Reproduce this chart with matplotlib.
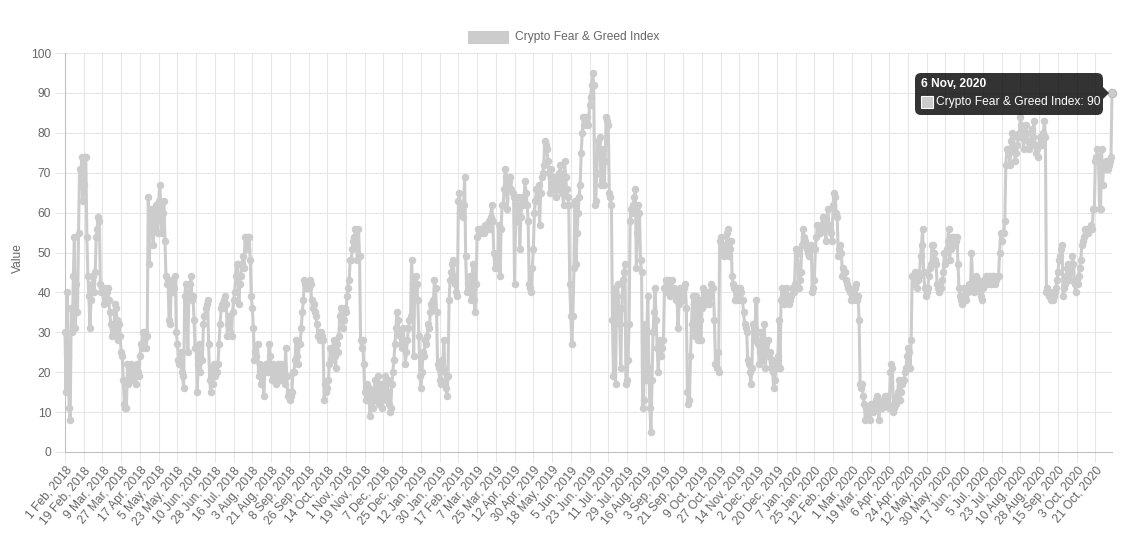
import matplotlib
matplotlib.use('Agg')
import matplotlib.pyplot as plt
import numpy as np
import pandas as pd
from matplotlib.patches import FancyBboxPatch, Rectangle, Polygon
from matplotlib.transforms import IdentityTransform

W, H = 1133, 535
LINE_COLOR = '#cccccc'
TEXT_COLOR = '#666666'
GRID_COLOR = '#e6e6e6'

# daily index values, Feb 2018 -> Nov 2020
fng_part1 = [
    30, 15, 40, 24, 11, 8, 36, 30, 44, 54, 31, 42, 35, 55, 71, 67, 74, 63,
    67, 74, 74, 54, 44, 39, 31, 38, 42, 44, 40, 45, 54, 56, 59, 58, 42, 40,
    41, 37, 41, 38, 40, 41, 38, 35, 32, 29, 31, 30, 37, 36, 33, 28, 32, 29,
    25, 24, 18, 12, 11, 11, 22, 17, 20, 22, 19, 18, 21, 20, 17, 22, 20, 19,
    24, 27, 26, 30, 28, 30, 26, 29, 64, 47, 57, 61, 56, 52, 60, 62, 58, 55,
    63, 67, 62, 55, 60, 63, 53, 44, 42, 43, 33, 32, 41, 43, 40, 41, 44, 30,
    27, 23, 22, 25, 20, 19, 16, 39, 42, 38, 25, 40, 42, 44, 38, 39, 33, 26,
    26, 15, 22, 27, 20, 23, 23, 32, 34, 36, 37, 38, 27, 18, 15, 21, 17, 22,
    19, 22, 20, 22, 27, 32, 36, 37, 36, 38, 39, 37, 29, 32, 34, 30, 29, 35,
    38, 40, 44, 47, 47, 37, 42, 44, 47, 49, 46, 54, 54, 51, 54, 54, 48, 39,
    36, 31, 23, 25, 24, 27, 19, 22, 17, 20, 21, 14, 20, 22, 21, 20, 27, 24,
    21, 18, 22, 19, 20, 17, 21, 22, 19, 18, 22, 21, 18, 17, 26, 19, 14, 15,
    13, 14, 15, 20, 20, 23, 28, 24, 22, 27, 27, 31, 35, 38, 43, 42, 41, 42,
    41, 43, 42, 38, 36, 37, 35, 34, 32, 29, 30, 28, 30, 29, 28, 13, 17, 15,
    16, 18, 22, 26, 23, 25, 28, 24, 21, 27, 25, 29, 34, 36, 35, 31, 33, 36,
    35, 39, 41, 43, 48, 48, 51, 53, 54, 56, 52, 48, 56, 49, 28, 26, 28, 22,
    15, 13, 17, 14, 16, 9, 12, 15, 11, 14, 18, 13, 16, 19, 12, 14, 17, 11,
    16, 19, 13, 15, 18, 12, 10, 11, 17, 20, 23, 27, 31, 35, 33, 30, 29, 27,
    26, 31, 27, 22, 25, 28, 31, 33, 34, 48, 42, 24, 41, 44, 42, 38, 29, 19,
]
fng_part2 = [
    16, 20, 25, 24, 28, 27, 29, 32, 31, 35, 37, 36, 38, 43, 41, 35, 22, 21,
    18, 17, 23, 21, 28, 20, 16, 14, 19, 38, 43, 45, 47, 48, 44, 42, 40, 39,
    63, 65, 60, 62, 59, 62, 69, 49, 40, 42, 40, 44, 38, 43, 47, 38, 35, 42,
    54, 56, 55, 56, 55, 56, 56, 55, 57, 56, 57, 58, 56, 59, 62, 58, 50, 46,
    49, 46, 49, 57, 44, 56, 62, 62, 66, 71, 69, 61, 66, 68, 69, 66, 65, 64,
    42, 58, 62, 64, 61, 51, 59, 64, 62, 63, 68, 65, 62, 58, 42, 41, 40, 46,
    51, 60, 63, 66, 64, 67, 57, 65, 69, 70, 72, 78, 77, 76, 73, 70, 65, 71,
    69, 67, 66, 69, 64, 67, 66, 70, 72, 68, 65, 62, 73, 69, 66, 64, 62, 42,
    34, 27, 34, 46, 63, 47, 55, 60, 64, 67, 75, 80, 84, 82, 84, 83, 84, 82,
    87, 89, 92, 95, 92, 62, 63, 70, 78, 74, 79, 67, 72, 76, 67, 73, 84, 83,
    82, 65, 64, 62, 33, 19, 41, 17, 39, 42, 36, 32, 21, 36, 43, 45, 47, 17,
    18, 23, 32, 58, 61, 60, 62, 64, 66, 46, 55, 62, 60, 48, 45, 11, 13, 32,
    18, 30, 39, 21, 11, 5, 18, 30, 35, 41, 33, 26, 20, 27, 28, 24, 26, 28,
    41, 43, 40, 42, 43, 39, 41, 43, 40, 41, 40, 38, 39, 31, 37, 41, 39, 40,
    38, 41, 42, 36, 15, 12, 13, 24, 32, 39, 35, 29, 39, 33, 28, 38, 33, 28,
    36, 41, 40, 38, 37, 40, 38, 37, 39, 42, 41, 41, 33, 22, 21, 25, 20, 53,
    54, 52, 50, 49, 51, 52, 55, 56, 49, 51, 53, 44, 42, 41, 38, 38, 41, 39,
    38, 41, 40, 38, 35, 32, 31, 30, 23, 22, 20, 17, 21, 32, 28, 31, 38, 30,
    27, 22, 25, 30, 23, 28, 32, 21, 27, 28, 24, 25, 21, 23, 20, 16, 18, 21,
]
fng_part3 = [
    22, 24, 33, 21, 38, 41, 39, 37, 40, 41, 38, 39, 37, 38, 39, 41, 40, 42,
    51, 50, 50, 41, 43, 45, 52, 56, 54, 53, 52, 51, 50, 49, 51, 52, 40, 41,
    43, 51, 54, 57, 56, 55, 56, 57, 59, 58, 57, 53, 57, 61, 57, 56, 55, 53,
    62, 65, 64, 60, 59, 49, 51, 52, 50, 44, 46, 45, 43, 42, 41, 41, 40, 38,
    40, 38, 39, 41, 42, 38, 39, 33, 17, 16, 17, 14, 12, 8, 11, 11, 9, 8,
    12, 11, 10, 12, 11, 13, 14, 12, 8, 11, 12, 11, 13, 13, 14, 13, 14, 12,
    11, 20, 22, 21, 10, 11, 12, 14, 15, 18, 13, 15, 17, 18, 18, 20, 21, 24,
    26, 25, 21, 28, 44, 44, 42, 45, 43, 41, 43, 44, 49, 52, 56, 45, 41, 39,
    40, 41, 44, 46, 47, 52, 52, 50, 48, 47, 42, 41, 40, 42, 41, 43, 45, 50,
    47, 51, 53, 56, 48, 51, 54, 53, 54, 52, 53, 54, 47, 41, 39, 38, 37, 38,
    41, 39, 38, 41, 40, 42, 41, 50, 43, 40, 41, 44, 42, 43, 42, 40, 39, 38,
    41, 43, 43, 44, 42, 43, 44, 43, 42, 44, 43, 44, 42, 43, 44, 44, 50, 55,
    53, 55, 55, 58, 72, 76, 76, 75, 72, 78, 80, 79, 76, 73, 75, 77, 79, 80,
    84, 82, 79, 76, 80, 82, 80, 78, 76, 77, 78, 81, 79, 83, 77, 75, 76, 74,
    77, 79, 78, 77, 80, 83, 79, 40, 41, 39, 40, 38, 39, 38, 39, 40, 41, 43,
    45, 48, 49, 51, 52, 39, 41, 42, 44, 46, 47, 45, 43, 46, 49, 47, 42, 40,
    43, 42, 44, 46, 48, 52, 53, 54, 56, 55, 56, 55, 56, 56, 57, 56, 61, 61,
    73, 74, 76, 74, 61, 61, 76, 67, 72, 71, 73, 72, 71, 72, 73, 74, 90,
]
# the source has no entries for these days
missing_days = ['2018-04-14', '2018-04-15', '2018-04-16']

values = fng_part1 + fng_part2 + fng_part3
dates = pd.date_range('2018-02-01', '2020-11-06', freq='D')
dates = dates[~dates.isin(pd.to_datetime(missing_days))]
assert len(dates) == len(values), (len(dates), len(values))

labels = ['%d %s, %d' % (d.day, d.strftime('%b'), d.year) for d in dates]
n = len(values)
x = np.arange(n)

plt.rcParams['font.family'] = ['Liberation Sans', 'DejaVu Sans']
fs = 12 * 72 / 100.0  # 12px

fig = plt.figure(figsize=(W / 100, H / 100), dpi=100)
ax = fig.add_axes([65 / W, 1 - 452 / H, (1112 - 65) / W, (452 - 53) / H])

ax.plot(x, values, color=LINE_COLOR, lw=2.2, marker='o', ms=4.4,
        mfc=LINE_COLOR, mec=LINE_COLOR, zorder=3, clip_on=False)
# hovered point
ax.plot(x[-1], values[-1], 'o', ms=6, mfc=LINE_COLOR, mec='#bbbbbb',
        mew=0.8, zorder=4, clip_on=False)

ax.set_xlim(0, n - 1)
ax.set_ylim(0, 100)
ticks = np.arange(0, n, 18)
ax.set_xticks(ticks)
ax.set_xticklabels([labels[i] for i in ticks], rotation=50, ha='right',
                   rotation_mode='anchor', fontsize=fs, color=TEXT_COLOR)
ax.set_yticks(np.arange(0, 101, 10))
ax.set_yticklabels([str(v) for v in range(0, 101, 10)], fontsize=fs,
                   color=TEXT_COLOR)
ax.grid(True, color=GRID_COLOR, lw=0.75, zorder=0)
ax.set_axisbelow(True)
ax.tick_params(axis='both', length=7, width=0.75, color=GRID_COLOR)
ax.tick_params(axis='x', pad=2)
ax.tick_params(axis='y', pad=3)
for side in ['top', 'right']:
    ax.spines[side].set_visible(False)
ax.spines['left'].set_color('#bfbfbf')
ax.spines['bottom'].set_color('#bfbfbf')
ax.spines['left'].set_linewidth(0.75)
ax.spines['bottom'].set_linewidth(0.75)
fig.text(18 / W, 1 - 258 / H, 'Value', rotation=90, ha='center',
         va='center', fontsize=fs, color=TEXT_COLOR)

px = IdentityTransform()

# legend
fig.add_artist(Rectangle((468, H - 43), 40, 12, transform=px,
                         fc=LINE_COLOR, ec=LINE_COLOR, lw=0.8))
fig.text(515, H - 37, 'Crypto Fear & Greed Index', transform=px,
         ha='left', va='center', fontsize=fs, color=TEXT_COLOR)

# tooltip
fig.add_artist(FancyBboxPatch((915, H - 115), 188, 42, transform=px,
                              boxstyle='round,pad=0,rounding_size=6',
                              fc=(0, 0, 0, 0.8), ec='none'))
fig.add_artist(Polygon([(1103, H - 87), (1109, H - 93), (1103, H - 99)],
                       closed=True, transform=px, fc=(0, 0, 0, 0.8),
                       ec='none'))
fig.text(921, H - 84, '6 Nov, 2020', transform=px, ha='left',
         va='center', fontsize=fs, color='white', fontweight='bold')
fig.add_artist(Rectangle((921, H - 108), 12, 12, transform=px,
                         fc=LINE_COLOR, ec='white', lw=0.8))
fig.text(936, H - 102, 'Crypto Fear & Greed Index: 90', transform=px,
         ha='left', va='center', fontsize=fs, color='white')

fig.savefig('out.png', dpi=100)
